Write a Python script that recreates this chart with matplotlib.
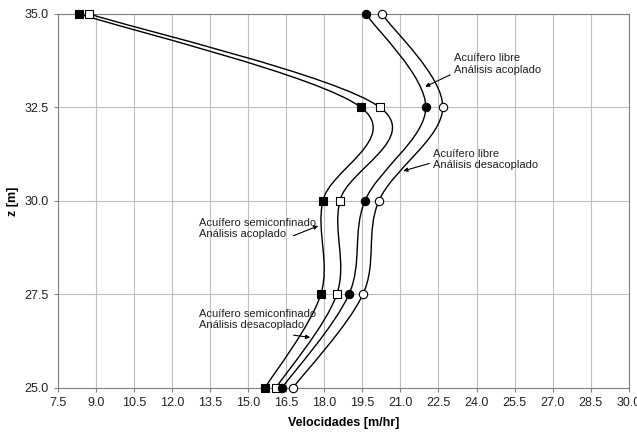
import matplotlib
matplotlib.use("Agg")
import numpy as np
import matplotlib.pyplot as plt
from matplotlib.path import Path
from matplotlib.patches import PathPatch

plt.rcParams['font.family'] = ['Liberation Sans', 'DejaVu Sans']

# profundidades
z = [35.0, 32.5, 30.0, 27.5, 25.0]

# velocidades [m/hr]
semi_acoplado = [8.33, 19.44, 17.94, 17.86, 15.66]
semi_desacoplado = [8.72, 20.19, 18.61, 18.49, 16.09]
libre_acoplado = [19.64, 22.00, 19.60, 18.97, 16.33]
libre_desacoplado = [20.27, 22.67, 20.15, 19.52, 16.76]

xticks = [7.5, 9.0, 10.5, 12.0, 13.5, 15.0, 16.5, 18.0, 19.5, 21.0,
          22.5, 24.0, 25.5, 27.0, 28.5, 30.0]
yticks = [25.0, 27.5, 30.0, 32.5, 35.0]


def smooth_path(x, y):
    # curva suavizada tipo Excel (Bezier cubica, Catmull-Rom)
    p = np.column_stack([x, y])
    n = len(p)
    verts = [p[0]]
    codes = [Path.MOVETO]
    for i in range(n - 1):
        p0 = p[i - 1] if i > 0 else p[i]
        p3 = p[i + 2] if i + 2 < n else p[i + 1]
        c1 = p[i] + (p[i + 1] - p0) / 6.0
        c2 = p[i + 1] - (p3 - p[i]) / 6.0
        verts += [c1, c2, p[i + 1]]
        codes += [Path.CURVE4] * 3
    return Path(verts, codes)


fig = plt.figure(figsize=(6.37, 4.32), dpi=100)
ax = fig.add_axes([0.091, 0.102, 0.896, 0.866])

series = [
    (semi_acoplado, 's', 'black'),
    (semi_desacoplado, 's', 'white'),
    (libre_acoplado, 'o', 'black'),
    (libre_desacoplado, 'o', 'white'),
]
for vals, mk, fc in series:
    ax.add_patch(PathPatch(smooth_path(vals, z), fill=False, ec='black', lw=1.0, zorder=3))
    ax.plot(vals, z, ls='none', marker=mk, ms=6, mfc=fc, mec='black', mew=0.8,
            zorder=4, clip_on=False)

ax.set_xlim(7.5, 30.0)
ax.set_ylim(25.0, 35.0)
ax.set_xticks(xticks)
ax.set_yticks(yticks)
ax.set_xticklabels([f"{t:.1f}" for t in xticks], fontsize=9)
ax.set_yticklabels([f"{t:.1f}" for t in yticks], fontsize=9)
ax.grid(True, color='#c0c0c0', lw=0.8)
ax.set_axisbelow(True)
for s in ax.spines.values():
    s.set_color('#808080')
ax.tick_params(colors='#808080', labelcolor='#222222', length=3)

ax.set_xlabel('Velocidades [m/hr]', fontsize=9, fontweight='bold', labelpad=6)
ax.set_ylabel('z [m]', fontsize=9, fontweight='bold', labelpad=4)

arrow = dict(arrowstyle='-|>', color='black', lw=0.8, mutation_scale=6)
txt = dict(fontsize=8, color='#222222', ha='left', va='center', linespacing=1.15)

ax.annotate('', xy=(21.88, 33.02), xytext=(23.06, 33.40), arrowprops=arrow)
ax.text(23.1, 33.66, 'Acuífero libre\nAnálisis acoplado', **txt)

ax.annotate('', xy=(21.01, 30.78), xytext=(22.24, 31.02), arrowprops=arrow)
ax.text(22.3, 31.10, 'Acuífero libre\nAnálisis desacoplado', **txt)

ax.annotate('', xy=(17.86, 29.36), xytext=(16.68, 29.04), arrowprops=arrow)
ax.text(13.06, 29.26, 'Acuífero semiconfinado\nAnálisis acoplado', **txt)

ax.annotate('', xy=(17.55, 26.34), xytext=(16.68, 26.42), arrowprops=arrow)
ax.text(13.06, 26.83, 'Acuífero semiconfinado\nAnálisis desacoplado', **txt)

fig.savefig('out.png', dpi=100)
